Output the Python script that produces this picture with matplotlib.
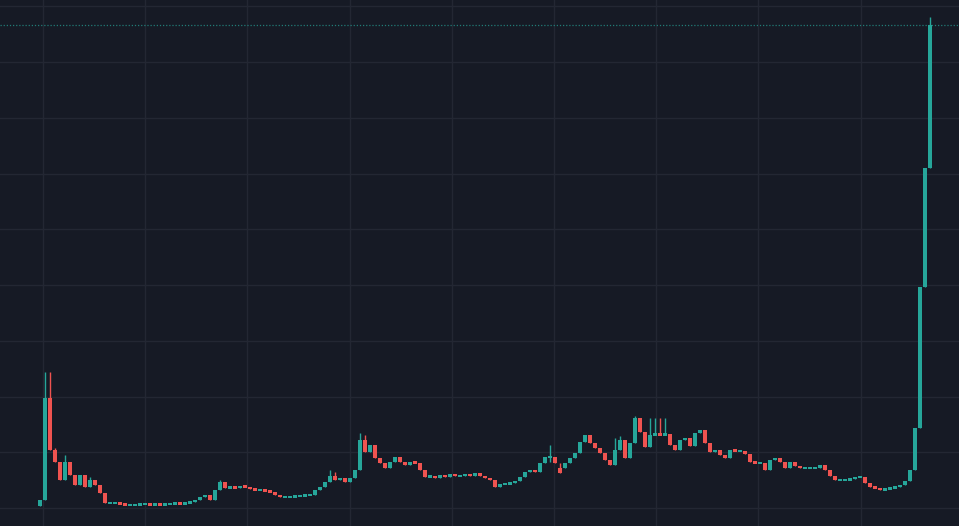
import numpy as np
import matplotlib
matplotlib.use('Agg')
import matplotlib.pyplot as plt
from matplotlib.ticker import MultipleLocator

# closing prices, one per candle (arbitrary price units)
closes = [8, 110, 58, 46, 28, 46, 33, 23, 33, 21, 28, 23, 15, 5, 5, 5, 4, 3, 3, 3,
          4, 4, 3, 4, 3, 4, 4, 5, 4, 5, 6, 8, 11, 13, 8, 18, 26, 20, 21, 20,
          22, 21, 19, 18, 18, 17, 16, 13, 11, 11, 11, 12, 12, 13, 13, 18, 21, 26, 32, 28,
          30, 26, 30, 38, 68, 56, 63, 50, 45, 40, 46, 51, 46, 43, 46, 45, 38, 31, 32, 30,
          33, 31, 34, 32, 32, 34, 32, 35, 32, 30, 28, 21, 24, 24, 25, 27, 31, 36, 38, 36,
          45, 51, 51, 45, 40, 45, 50, 55, 66, 73, 65, 60, 55, 48, 43, 58, 68, 50, 65, 90,
          76, 61, 73, 74, 73, 74, 63, 58, 68, 70, 62, 75, 78, 65, 56, 58, 53, 50, 58, 57,
          57, 54, 46, 45, 45, 38, 48, 50, 46, 40, 46, 42, 40, 40, 40, 40, 43, 38, 32, 28,
          28, 28, 29, 31, 31, 25, 21, 20, 18, 19, 20, 21, 23, 27, 38, 80, 221, 340, 483]
first_open = 2

# candles with wicks sticking out of the body
wick_high_idx = [1, 2, 3, 5, 9, 10, 36, 58, 59, 64, 65, 102, 115, 116, 119, 122, 123, 124, 125, 178]
wick_high_val = [136, 136, 60, 53, 30, 31, 28, 38, 36, 75, 73, 63, 70, 72, 92, 90, 90, 90, 90, 491]
wick_low_idx = [102, 104, 177]
wick_low_val = [46, 35, 305]

last_price = 483

opens = [first_open] + closes[:-1]
n = len(closes)
idx = np.arange(n)
o = np.array(opens, dtype=float)
c = np.array(closes, dtype=float)
hi = np.maximum(o, c)
lo = np.minimum(o, c)
for i, v in zip(wick_high_idx, wick_high_val):
    hi[i] = max(hi[i], v)
for i, v in zip(wick_low_idx, wick_low_val):
    lo[i] = min(lo[i], v)

up_col = '#26a69a'
down_col = '#ef5350'
bg = '#161a25'
colors = [up_col if cc >= oo else down_col for oo, cc in zip(o, c)]

fig = plt.figure(figsize=(9.59, 5.26), dpi=100)
fig.patch.set_facecolor(bg)
ax = fig.add_axes([0, 0, 1, 1])
ax.set_facecolor(bg)

# grid
ax.set_xticks(np.arange(0.6, 190, 20.44))
ax.yaxis.set_major_locator(MultipleLocator(55.75))
ax.grid(True, color='#232733', linewidth=1.0)
ax.set_axisbelow(True)

ax.vlines(idx, lo, hi, colors=colors, linewidth=1.0, zorder=2)
# flat candles still get a visible sliver, like on the original
body_h = np.maximum(np.abs(c - o), 2.5)
body_lo = np.where(np.abs(c - o) < 2.5, (o + c) / 2 - 1.25, lo)
ax.bar(idx, body_h, bottom=body_lo, width=0.8, color=colors, linewidth=0, zorder=3)

# last price line
ax.axhline(last_price, color=up_col, linestyle=(0, (1, 1.5)), linewidth=0.9, alpha=0.7, zorder=1)

ax.set_xlim(-8, 183.8)
ax.set_ylim(-18, 508)
ax.tick_params(left=False, bottom=False, labelleft=False, labelbottom=False)
for s in ax.spines.values():
    s.set_visible(False)

fig.savefig('out.png', dpi=100, facecolor=bg)
